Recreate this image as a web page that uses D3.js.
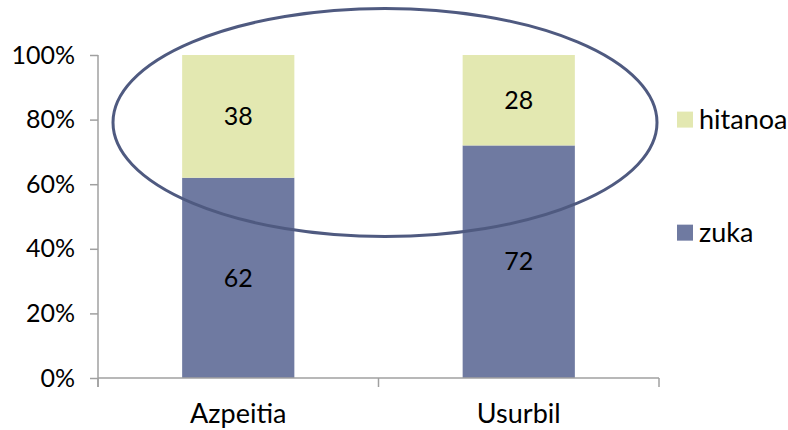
<!DOCTYPE html>
<html>
<head>
<meta charset="utf-8">
<script src="https://cdn.jsdelivr.net/npm/d3@7"></script>
<style>
  html, body { margin: 0; padding: 0; background: #fff; }
  svg text { font-family: Lato, "Open Sans", sans-serif; fill: #000; }
</style>
</head>
<body>
<div id="chart"></div>
<script>
// chart data
const categories = ['Azpeitia', 'Usurbil'];
const seriesNames = ['zuka', 'hitanoa'];
const zuka = [62, 72];
const hitanoa = [38, 28];
const yTicks = [0, 20, 40, 60, 80, 100];
const colors = { zuka: '#6F7AA1', hitanoa: '#E3E8B1' };

const width = 788;
const height = 430;
const margin = { top: 55, right: 129, bottom: 52, left: 98 };

const svg = d3.select('#chart')
  .append('svg')
  .attr('width', width)
  .attr('height', height);

const g = svg.append('g')
  .attr('transform', `translate(${margin.left},${margin.top})`);

const innerW = width - margin.left - margin.right;
const innerH = height - margin.top - margin.bottom;

// Scales
const x = d3.scaleBand()
  .domain(categories)
  .range([0, innerW])
  .paddingInner(0.6)
  .paddingOuter(0.3);

const y = d3.scaleLinear()
  .domain([0, 100])
  .range([innerH, 0]);

// Stack the two series
const rows = categories.map((c, i) => ({ cat: c, zuka: zuka[i], hitanoa: hitanoa[i] }));
const stacked = d3.stack().keys(seriesNames)(rows);

// Bars
stacked.forEach((layer) => {
  g.selectAll(null)
    .data(layer)
    .enter()
    .append('rect')
    .attr('x', (d) => x(d.data.cat))
    .attr('y', (d) => y(d[1]))
    .attr('width', x.bandwidth())
    .attr('height', (d) => y(d[0]) - y(d[1]))
    .attr('fill', colors[layer.key]);

  g.selectAll(null)
    .data(layer)
    .enter()
    .append('text')
    .attr('x', (d) => x(d.data.cat) + x.bandwidth() / 2)
    .attr('y', (d) => (y(d[0]) + y(d[1])) / 2)
    .attr('dy', '0.35em')
    .attr('text-anchor', 'middle')
    .style('font-size', '25px')
    .text((d) => d.data[layer.key]);
});

// Y axis
const yAxis = g.append('g')
  .call(d3.axisLeft(y).tickValues(yTicks).tickSize(8).tickPadding(15).tickFormat((d) => d + '%'));

// X axis with boundary ticks between categories
const boundaries = d3.range(categories.length + 1).map((i) => i * innerW / categories.length);
const xAxis = g.append('g')
  .attr('transform', `translate(0,${innerH})`);
xAxis.append('line')
  .attr('x1', 0).attr('x2', innerW)
  .attr('stroke', '#A0A0A0').attr('stroke-width', 1.5);
xAxis.selectAll('.bt')
  .data(boundaries)
  .enter()
  .append('line')
  .attr('x1', (d) => d).attr('x2', (d) => d)
  .attr('y1', 0).attr('y2', 9)
  .attr('stroke', '#A0A0A0').attr('stroke-width', 1.5);
xAxis.selectAll('.cl')
  .data(categories)
  .enter()
  .append('text')
  .attr('x', (d) => x(d) + x.bandwidth() / 2)
  .attr('y', 45)
  .attr('text-anchor', 'middle')
  .style('font-size', '27px')
  .text((d) => d);

yAxis.select('.domain').attr('stroke', '#A0A0A0').attr('stroke-width', 1.5)
  .attr('d', `M0,0V${innerH + 9}`);
yAxis.selectAll('.tick line').attr('stroke', '#A0A0A0').attr('stroke-width', 1.5);
yAxis.selectAll('.tick text').style('font-size', '25px').attr('fill', '#000');

// Highlight ellipse (annotation)
g.append('ellipse')
  .attr('cx', 287)
  .attr('cy', y(79.1))
  .attr('rx', 272)
  .attr('ry', 114)
  .attr('fill', 'none')
  .attr('stroke', '#4F5A80')
  .attr('stroke-width', 3);

// Legend
const legendItems = ['hitanoa', 'zuka'];
const legendY = [y(80), y(45)];
const legend = g.selectAll('.legend')
  .data(legendItems)
  .enter()
  .append('g')
  .attr('transform', (d, i) => `translate(${579},${legendY[i] - 8})`);
legend.append('rect')
  .attr('width', 16).attr('height', 16)
  .attr('fill', (d) => colors[d]);
legend.append('text')
  .attr('x', 22).attr('y', 8).attr('dy', '0.35em')
  .style('font-size', '27px')
  .text((d) => d);
</script>
</body>
</html>
